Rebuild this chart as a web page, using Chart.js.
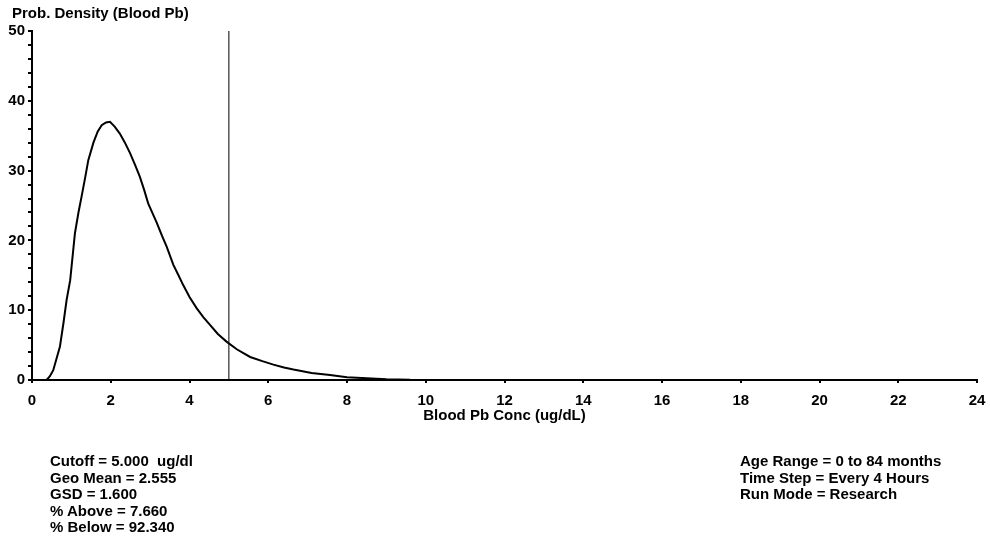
<!DOCTYPE html>
<html>
<head>
<meta charset="utf-8">
<script src="https://cdn.jsdelivr.net/npm/chart.js@4"></script>
<style>
  body { margin: 0; background: #fff; }
  #wrap { position: relative; width: 990px; height: 550px; }
  .info {
    position: absolute;
    font: bold 15px "Liberation Sans", Arial, sans-serif;
    line-height: 16.5px;
    color: #000;
    white-space: pre;
  }
</style>
</head>
<body>
<div id="wrap">
  <canvas id="density"></canvas>
  <div class="info" id="yTitle" style="left:12px; top:5px;"></div>
  <div class="info" id="leftInfo" style="left:50px; top:453px;"></div>
  <div class="info" id="rightInfo" style="left:740px; top:453px;"></div>
</div>
<script>
// blood Pb concentration (ug/dL) and probability density
const concs = [0.37, 0.45, 0.54, 0.62, 0.71, 0.80, 0.88, 0.97, 1.09, 1.18, 1.26, 1.35, 1.43, 1.56,
  1.67, 1.77, 1.88, 1.98, 2.10, 2.23, 2.36, 2.49, 2.62, 2.74, 2.85, 2.95, 3.06, 3.17, 3.30,
  3.42, 3.59, 3.72, 3.84, 4.00, 4.18, 4.35, 4.52, 4.72, 4.94, 5.20, 5.54, 5.85, 6.13, 6.40,
  6.64, 7.10, 7.57, 8.00, 8.50, 9.00, 9.60];
const density = [0, 0.5, 1.4, 3.0, 4.8, 8.2, 11.5, 14.3, 21.0, 24.0, 26.3, 29.0, 31.5, 34.0,
  35.6, 36.5, 36.9, 37.0, 36.3, 35.3, 34.0, 32.5, 30.8, 29.1, 27.2, 25.3, 23.9, 22.5, 20.7,
  19.1, 16.5, 15.0, 13.6, 11.9, 10.3, 9.0, 7.9, 6.6, 5.5, 4.4, 3.3, 2.7, 2.2, 1.8,
  1.5, 1.0, 0.7, 0.4, 0.25, 0.1, 0.02];
const cutoff = 5;
const yRange = [0, 50];
const xRange = [0, 24];

const leftLines = [
  "Cutoff = 5.000  ug/dl",
  "Geo Mean = 2.555",
  "GSD = 1.600",
  "% Above = 7.660",
  "% Below = 92.340",
];
const rightLines = [
  "Age Range = 0 to 84 months",
  "Time Step = Every 4 Hours",
  "Run Mode = Research",
];

document.getElementById("yTitle").textContent = "Prob. Density (Blood Pb)";
document.getElementById("leftInfo").textContent = leftLines.join("\n");
document.getElementById("rightInfo").textContent = rightLines.join("\n");

const boldFont = { family: "'Liberation Sans', Arial, sans-serif", size: 15, weight: "bold" };

const data = {
  datasets: [
    {
      label: "density",
      data: concs.map((c, i) => ({ x: c, y: density[i] })),
      borderColor: "#000",
      borderWidth: 2,
      pointRadius: 0,
      tension: 0,
    },
    {
      label: "cutoff",
      data: [{ x: cutoff, y: yRange[0] }, { x: cutoff, y: yRange[1] }],
      borderColor: "#000",
      borderWidth: 1,
      pointRadius: 0,
    },
  ],
};

const config = {
  type: "line",
  data: data,
  options: {
    responsive: true,
    maintainAspectRatio: false,
    animation: false,
    layout: {
      padding: { left: 0, right: 13, top: 31, bottom: 120 },
    },
    plugins: {
      legend: { display: false },
      tooltip: { enabled: false },
    },
    scales: {
      x: {
        type: "linear",
        min: xRange[0],
        max: xRange[1],
        afterFit: (scale) => {
          scale.height = 50;
          scale.paddingRight = 0;
        },
        ticks: {
          stepSize: 2,
          color: "#000",
          font: boldFont,
          padding: 9,
          maxRotation: 0,
          autoSkip: false,
        },
        grid: {
          drawOnChartArea: false,
          drawTicks: true,
          tickLength: 3,
          lineWidth: 2,
          color: "#000",
        },
        border: { display: true, color: "#000", width: 2 },
        title: {
          display: true,
          text: "Blood Pb Conc (ug/dL)",
          color: "#000",
          font: boldFont,
          padding: { top: 0, bottom: 5 },
        },
      },
      y: {
        type: "linear",
        min: yRange[0],
        max: yRange[1],
        afterFit: (scale) => { scale.width = 32; },
        ticks: {
          stepSize: 2,
          color: "#000",
          font: boldFont,
          padding: 3,
          autoSkip: false,
          callback: (v) => (v % 10 === 0 ? v : ""),
        },
        grid: {
          drawOnChartArea: false,
          drawTicks: true,
          tickLength: 4,
          lineWidth: 2,
          color: "#000",
        },
        border: { display: true, color: "#000", width: 2 },
      },
    },
  },
};

const densityChart = new Chart(document.getElementById("density"), config);
</script>
</body>
</html>
